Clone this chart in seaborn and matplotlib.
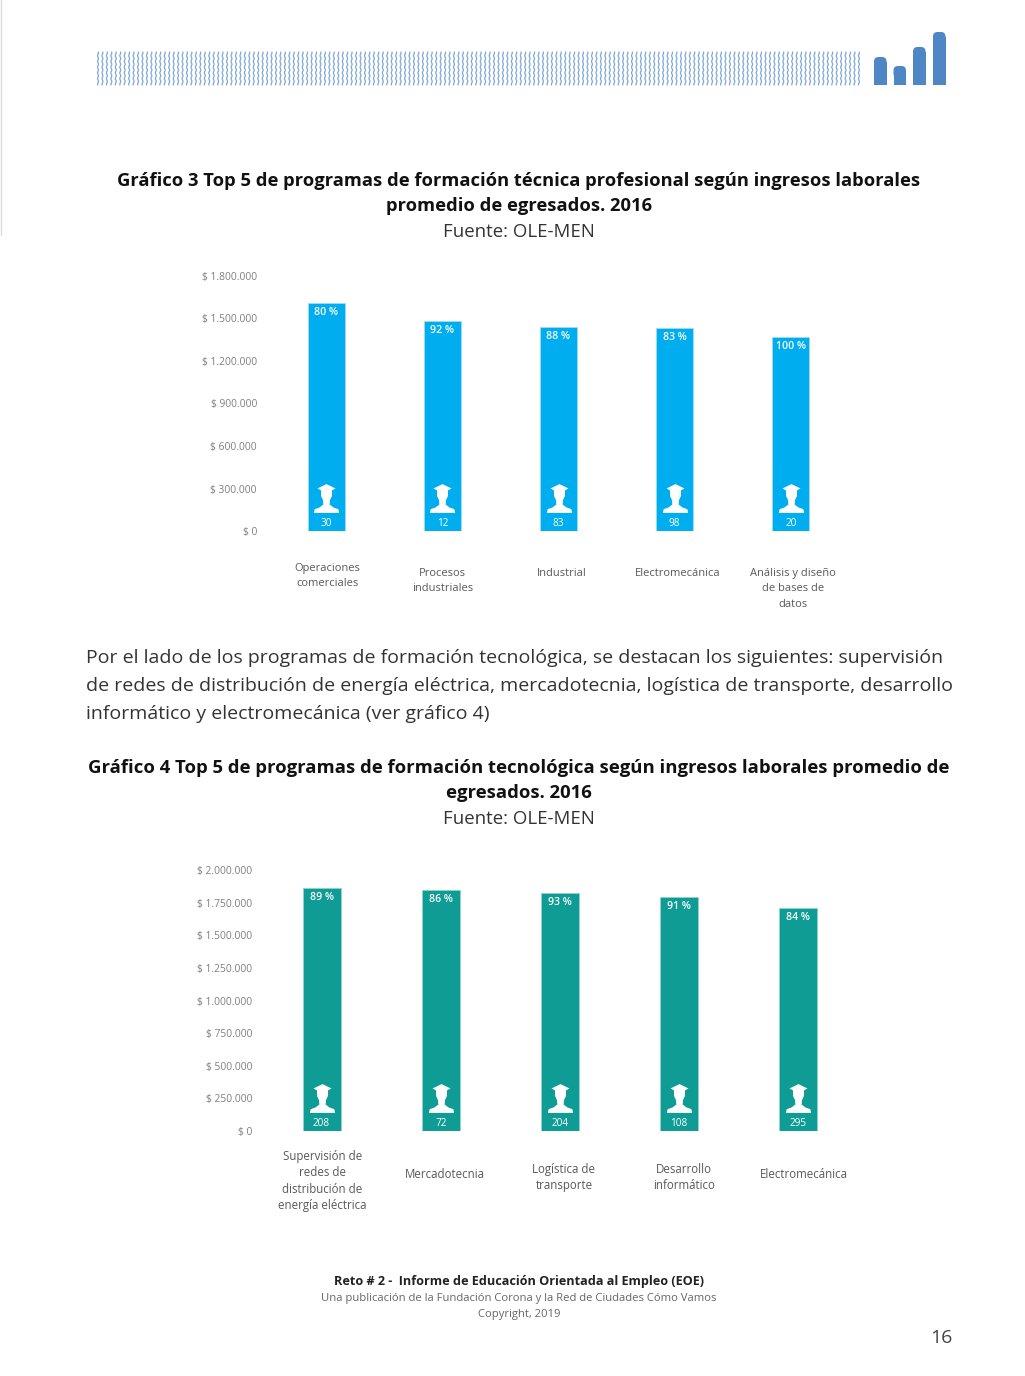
import numpy as np
import matplotlib
matplotlib.use("Agg")
import matplotlib.pyplot as plt
import seaborn as sns
from matplotlib.path import Path
from matplotlib.patches import FancyBboxPatch
from matplotlib.transforms import ScaledTranslation

# ---------- data ----------
cats_3 = ["Operaciones\ncomerciales", "Procesos\nindustriales", "Industrial",
          "Electromecánica", "Análisis y diseño\nde bases de\ndatos"]
income_3 = [1609000, 1482000, 1440000, 1433000, 1369000]
pct_3 = ["80 %", "92 %", "88 %", "83 %", "100 %"]
count_3 = [30, 12, 83, 98, 20]
ticks_3 = [0, 300000, 600000, 900000, 1200000, 1500000, 1800000]

cats_4 = ["Supervisión de\nredes de\ndistribución de\nenergía eléctrica", "Mercadotecnia",
          "Logística de\ntransporte", "Desarrollo\ninformático", "Electromecánica"]
income_4 = [1862000, 1847000, 1824000, 1793000, 1709000]
pct_4 = ["89 %", "86 %", "93 %", "91 %", "84 %"]
count_4 = [208, 72, 204, 108, 295]
ticks_4 = [0, 250000, 500000, 750000, 1000000, 1250000, 1500000, 1750000, 2000000]

title_3 = ["Gráfico 3 Top 5 de programas de formación técnica profesional según ingresos laborales",
           "promedio de egresados. 2016"]
title_4 = ["Gráfico 4 Top 5 de programas de formación tecnológica según ingresos laborales promedio de",
           "egresados. 2016"]
source = "Fuente: OLE-MEN"
body = ["Por el lado de los programas de formación tecnológica, se destacan los siguientes: supervisión",
        "de redes de distribución de energía eléctrica, mercadotecnia, logística de transporte, desarrollo",
        "informático y electromecánica (ver gráfico 4)"]

# ---------- style ----------
W, H = 1025, 1376
sns.set_theme(style="white")
plt.rcParams["font.family"] = ["Open Sans", "DejaVu Sans"]
GREY = "#7f7f7f"
LABEL = "#595959"
fig = plt.figure(figsize=(W / 100, H / 100), dpi=100, facecolor="white")

page = fig.add_axes([0, 0, 1, 1], zorder=0)
page.set_xlim(0, W)
page.set_ylim(H, 0)
page.axis("off")

# left page edge
page.plot([0.6, 0.6], [0, 235], color="#dcdcdc", lw=1.0)

# header strip
yy = np.linspace(52, 85, 80)
for x0 in np.arange(98, 859, 4.45):
    page.plot(x0 + 0.45 * np.sin(yy * 1.1), yy, color="#7fa8d8", lw=0.9)
for x0, top in [(874, 57), (893.5, 66), (913, 47), (933, 32)]:
    page.add_patch(FancyBboxPatch((x0, top), 12.5, 12,
                                  boxstyle="round,pad=0,rounding_size=4.5",
                                  lw=0, fc="#4f86c6", clip_on=False))
    page.add_patch(plt.Rectangle((x0, top + 5), 12.5, 84.5 - top - 5, color="#4f86c6", lw=0))

# page text
def ptext(x, y, s, size, weight="normal", color="#222222", ha="center"):
    page.text(x, y, s, fontsize=size, fontweight=weight, color=color, ha=ha, va="center")

for y, line in zip([181, 206], title_3):
    ptext(519, y, line, 13.2, "bold", "#111111")
ptext(519, 232, source, 13.4, color="#333333")
for y, line in zip([658, 686, 714], body):
    ptext(86, y, line, 14.03, ha="left", color="#333333")
for y, line in zip([768, 793], title_4):
    ptext(519, y, line, 13.3, "bold", "#111111")
ptext(519, 819, source, 13.4, color="#333333")
ptext(519, 1281, "Reto # 2 -  Informe de Educación Orientada al Empleo (EOE)", 9.1, "bold", "#222222")
ptext(519, 1299, "Una publicación de la Fundación Corona y la Red de Ciudades Cómo Vamos", 8.1, color="#666666")
ptext(519, 1315, "Copyright, 2019", 8.1, color="#666666")
ptext(941, 1338, "16", 14, color="#444444")

# graduate icon
icon = Path(np.array([
    (0, 1), (0.62, 0.70), (0.38, 0.56), (0.38, 0.18), (0.24, -0.12), (0.22, -0.42),
    (0.48, -0.62), (0.82, -0.74), (0.88, -1), (-0.88, -1), (-0.82, -0.74), (-0.48, -0.62),
    (-0.22, -0.42), (-0.24, -0.12), (-0.38, 0.18), (-0.38, 0.56), (-0.62, 0.70), (0, 1),
]), closed=True)


def money(v, _=None):
    return "$ " + f"{int(v):,}".replace(",", ".")


def chart(box, cats, vals, pcts, counts, ticks, color, label_dx, label_dy, icon_y, pad, label_size, spacing):
    left, right, top, bottom = box
    ax = fig.add_axes([left / W, 1 - bottom / H, (right - left) / W, (bottom - top) / H],
                      zorder=1, facecolor="none")
    sns.barplot(x=cats, y=vals, color=color, saturation=1, width=0.32, ax=ax,
                edgecolor="#9fdcf2" if color == "#00aeef" else "#8fd4ce", linewidth=0.6)
    ax.set_xlim(-0.5, 4.5)
    ax.set_ylim(0, ticks[-1])
    ax.set_yticks(ticks)
    ax.set_yticklabels([money(t) for t in ticks], fontsize=7.4, color=GREY)
    ax.tick_params(axis="y", length=0, pad=pad)
    ax.tick_params(axis="x", length=0, pad=0)
    ax.set_xticks(range(len(cats)))
    ax.set_xticklabels(cats, fontsize=label_size, color=LABEL, linespacing=spacing)
    for lab, dx, dy in zip(ax.get_xticklabels(), label_dx, label_dy):
        lab.set_transform(lab.get_transform() + ScaledTranslation(dx / 100, -dy / 100, fig.dpi_scale_trans))
    sns.despine(ax=ax, left=True, bottom=True)
    ax.set_xlabel("")
    ax.set_ylabel("")
    ax.scatter(range(len(cats)), [icon_y] * len(cats), marker=icon, s=430, color="white", lw=0, zorder=4)
    for i, (v, p, c) in enumerate(zip(vals, pcts, counts)):
        ax.annotate(p, (i, v), xytext=(0, -7), textcoords="offset points", ha="center", va="center",
                    color="white", fontsize=7.6, fontweight="semibold", zorder=5)
        ax.annotate(str(c), (i, 0), xytext=(0, 5.6), textcoords="offset points", ha="center", va="center",
                    color="white", fontsize=7.2, zorder=5)
    return ax


chart((268, 849, 276, 531), cats_3, income_3, pct_3, count_3, ticks_3, "#00aeef",
      [1, 0, 3, 3, 2], [32, 37, 37, 37, 37], 233000, 8, 8.0, 1.55)
chart((262, 858, 870, 1131), cats_4, income_4, pct_4, count_4, ticks_4, "#0e9c94",
      [1, 4, 4, 5, 5], [19, 37, 32, 32, 37], 253000, 7, 8.3, 1.33)

fig.savefig("out.png", dpi=100, facecolor="white")
